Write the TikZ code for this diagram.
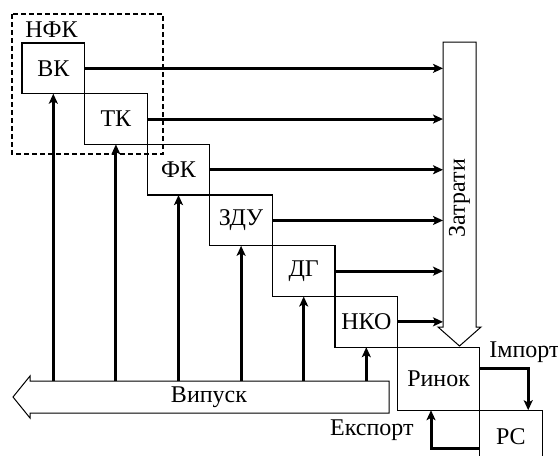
\documentclass[tikz,border=0pt]{standalone}
\usepackage{fontspec}
\setmainfont{Liberation Serif}
\usetikzlibrary{arrows.meta}
\tikzset{sector/.style={draw, line width=0.65pt, minimum width=31.3pt, minimum height=25.35pt, inner sep=0pt, outer sep=0pt}}
\tikzset{flow/.style={line width=1.5pt, -{Stealth[length=5pt, width=4.5pt, inset=1.2pt]}}}
\tikzset{bigarrow/.style={draw, line width=0.5pt, fill=white}}
\tikzset{tag/.style={inner sep=0pt}}

\begin{document}
\begin{tikzpicture}[x=0.5pt, y=-0.5pt, font=\fontsize{12}{14}\selectfont]
\useasboundingbox (0,0) rectangle (558,456);
% sectors
\node[sector, anchor=north west] (vk) at (22,43) {ВК};
\node[sector, anchor=north west] (tk) at (vk.south east) {ТК};
\node[sector, anchor=north west] (fk) at (tk.south east) {ФК};
\node[sector, anchor=north west] (zdu) at (fk.south east) {ЗДУ};
\node[sector, anchor=north west] (dg) at (zdu.south east) {ДГ};
\node[sector, anchor=north west] (nko) at (dg.south east) {НКО};
\node[sector, anchor=north west, minimum width=41pt, minimum height=31.5pt] (rynok) at (nko.south east) {Ринок};
\node[sector, anchor=north west, minimum height=26pt] (rs) at (rynok.south east) {РС};
\draw[dashed, dash pattern=on 2.5pt off 1.5pt, line width=0.55pt] (12,14) rectangle (163,154);
\node[tag, anchor=base west] (nfk) at (25,37) {НФК};

% costs and output
\draw[bigarrow] (443,42) -- (476,42) -- (476,327) -- (481,327) -- (459.5,346) -- (438,327) -- (443,327) -- cycle;
\node[tag, rotate=90] (costs) at (459.5,198) {Затрати};
\coordinate (costsL) at (443,42);
\draw[bigarrow] (389,381) -- (30,381) -- (30,376) -- (13,397) -- (30,418) -- (30,413) -- (389,413) -- cycle;
\node[tag] (output) at (209,397) {Випуск};
\coordinate (outT) at (30,381);

\foreach \s in {vk,tk,fk,zdu,dg,nko}{
  \draw[flow] (\s.east) -- (\s.east -| costsL);
  \draw[flow] (\s.south |- outT) -- (\s.south);
}

% foreign trade
\draw[flow] ([yshift=5pt]rynok.east) -| ([xshift=-7pt]rs.north east);
\draw[flow] ([yshift=-6pt]rs.west) -| ([xshift=16.7pt]rynok.south west);
\node[tag, anchor=base west] (imp) at (489,357) {Імпорт};
\node[tag, anchor=base east] (exp) at (414,435) {Експорт};

\end{tikzpicture}
\end{document}
